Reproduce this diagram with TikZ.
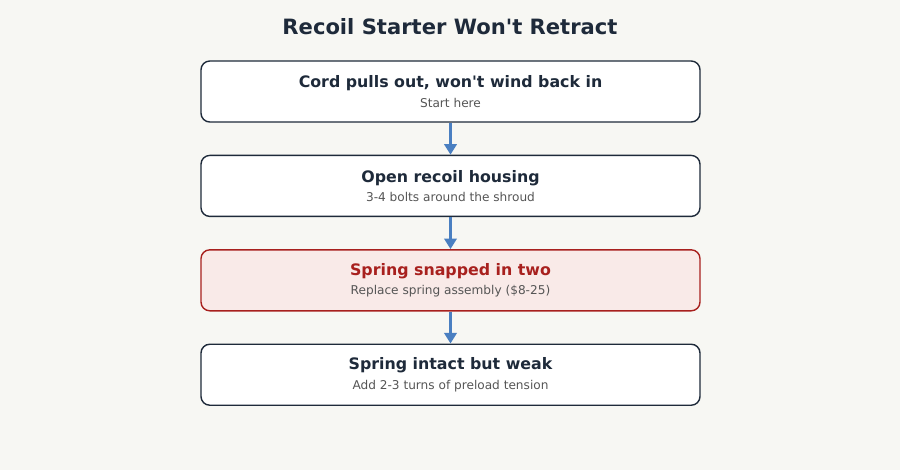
\documentclass[tikz,border=0pt]{standalone}
\usepackage{fontspec}
\setmainfont{DejaVu Sans}
\usetikzlibrary{positioning,arrows.meta}
\definecolor{bgcol}{HTML}{F7F7F3}
\definecolor{ink}{HTML}{1E2A3A}
\definecolor{subink}{HTML}{555555}
\definecolor{flow}{HTML}{4A7FC1}
\definecolor{alert}{HTML}{A8201E}
\definecolor{alertfill}{HTML}{F9EAE8}
\tikzset{
  stepbox/.style={draw=ink, line width=0.8pt, fill=white, rounded corners=5pt,
    minimum width=9.98cm, minimum height=1.22cm, align=center, inner sep=0pt},
  badbox/.style={stepbox, draw=alert, fill=alertfill},
  flowarrow/.style={-{Triangle[length=6pt,width=7pt]}, draw=flow, line width=1.6pt}
}
\newcommand{\steptext}[3][ink]{{\fontsize{9}{11}\selectfont\bfseries\color{#1}#2}\\[-1pt]{\fontsize{6.9}{9}\selectfont\color{subink}#3}}
\begin{document}
\begin{tikzpicture}
\fill[bgcol] (0,0) rectangle (18,-9.4);
\useasboundingbox (0,0) rectangle (18,-9.4);

\node[font=\fontsize{12}{14}\selectfont\bfseries, text=ink] (title) at (9,-0.54) {Recoil Starter Won\textquotesingle t Retract};

\node[stepbox] (cord) at (9.01,-1.83) {\steptext{Cord pulls out, won\textquotesingle t wind back in}{Start here}};
\node[stepbox, below=0.64cm of cord] (housing) {\steptext{Open recoil housing}{3-4 bolts around the shroud}};
\node[badbox, below=0.64cm of housing] (snapped) {\steptext[alert]{Spring snapped in two}{Replace spring assembly (\$8-25)}};
\node[stepbox, below=0.64cm of snapped] (weak) {\steptext{Spring intact but weak}{Add 2-3 turns of preload tension}};

\draw[flowarrow] (cord) -- (housing);
\draw[flowarrow] (housing) -- (snapped);
\draw[flowarrow] (snapped) -- (weak);
\end{tikzpicture}
\end{document}
